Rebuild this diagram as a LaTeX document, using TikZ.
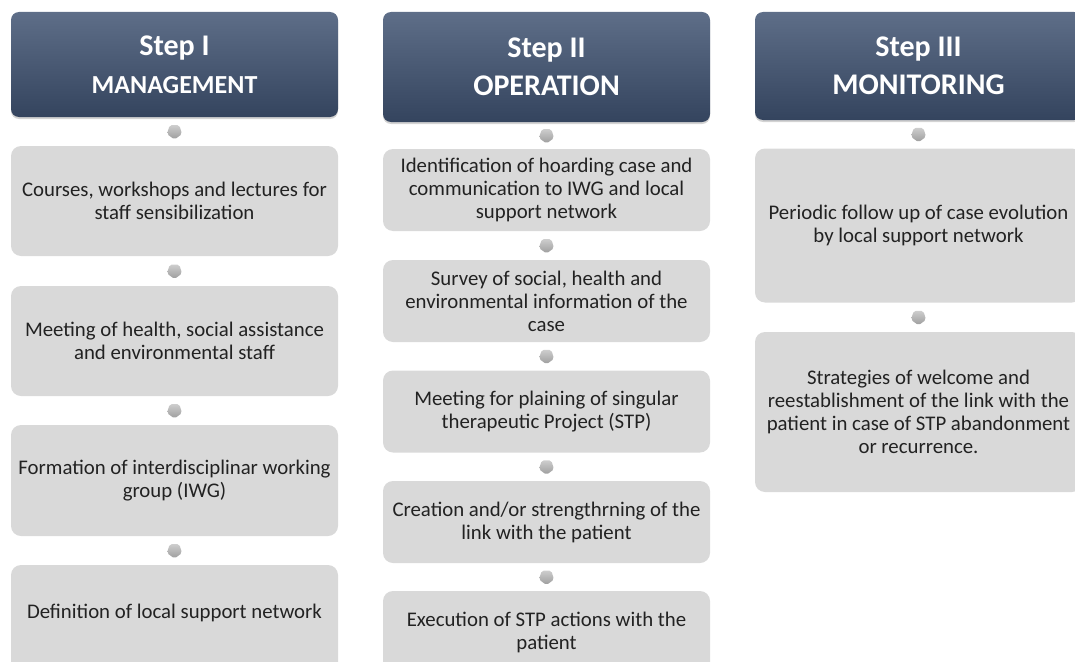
\documentclass[tikz,border=0pt]{standalone}
\usepackage{fontspec}
\setmainfont{Carlito}
\usetikzlibrary{shapes.geometric,shadows}
\definecolor{hdtop}{HTML}{5E6E88}
\definecolor{hdbot}{HTML}{34445E}
\definecolor{boxgray}{HTML}{D9D9D9}
\definecolor{txtgray}{HTML}{222222}
\definecolor{tickgray}{HTML}{9C9C9C}
\tikzset{
  head/.style={rounded corners=8pt, minimum width=327pt, inner sep=0pt,
    top color=hdtop, bottom color=hdbot, text=white, align=center,
    font=\bfseries\fontsize{30}{38}\selectfont,
    drop shadow={shadow xshift=0pt, shadow yshift=-2pt, opacity=0.35}},
  card/.style={rounded corners=10pt, fill=boxgray, minimum width=327pt,
    inner sep=0pt, align=center, text=txtgray,
    font=\fontsize{20.8}{23}\selectfont},
  tick/.style={regular polygon, regular polygon sides=5,
    shape border rotate=180, minimum size=16pt, inner sep=0pt,
    rounded corners=2pt, top color=tickgray!50, bottom color=tickgray}
}

\begin{document}
\begin{tikzpicture}[x=1pt,y=-1pt]
\useasboundingbox (0,0) rectangle (1075,661);

\node[head, minimum height=105pt] (s1) at (174.5,64.5) {Step I\\{\fontsize{26}{38}\selectfont MANAGEMENT}};
\node[card, minimum height=110pt] (m1) at (174.5,201) {Courses, workshops and lectures for\\staff sensibilization};
\node[card, minimum height=110pt] (m2) at (174.5,341) {Meeting of health, social assistance\\and environmental staff};
\node[card, minimum height=111pt] (m3) at (174.5,480.5) {Formation of interdisciplinar working\\group (IWG)};
\node[card, minimum height=110pt, text depth=18pt] (m4) at (174.5,620) {Definition of local support network};

\node[head, minimum height=110pt] (s2) at (546.5,67) {Step II\\OPERATION};
\node[card, minimum height=82pt] (o1) at (546.5,190) {Identification of hoarding case and\\communication to IWG and local\\support network};
\node[card, minimum height=82pt] (o2) at (546.5,301) {Survey of social, health and\\environmental information of the\\case};
\node[card, minimum height=82pt] (o3) at (546.5,411.5) {Meeting for plaining of singular\\therapeutic Project (STP)};
\node[card, minimum height=82pt] (o4) at (546.5,522) {Creation and/or strengthrning of the\\link with the patient};
\node[card, minimum height=82pt] (o5) at (546.5,632) {Execution of STP actions with the\\patient};

\node[head, minimum height=108pt] (s3) at (918.5,66) {Step III\\MONITORING};
\node[card, minimum height=154pt] (r1) at (918.5,225.5) {Periodic follow up of case evolution\\by local support network};
\node[card, minimum height=160pt] (r2) at (918.5,412) {Strategies of welcome and\\reestablishment of the link with the\\patient in case of STP abandonment\\or recurrence.};

\path (s1) -- node[tick] {} (m1);
\path (m1) -- node[tick] {} (m2);
\path (m2) -- node[tick] {} (m3);
\path (m3) -- node[tick] {} (m4);
\path (s2) -- node[tick] {} (o1);
\path (o1) -- node[tick] {} (o2);
\path (o2) -- node[tick] {} (o3);
\path (o3) -- node[tick] {} (o4);
\path (o4) -- node[tick] {} (o5);
\path (s3) -- node[tick] {} (r1);
\path (r1) -- node[tick] {} (r2);
\end{tikzpicture}
\end{document}
